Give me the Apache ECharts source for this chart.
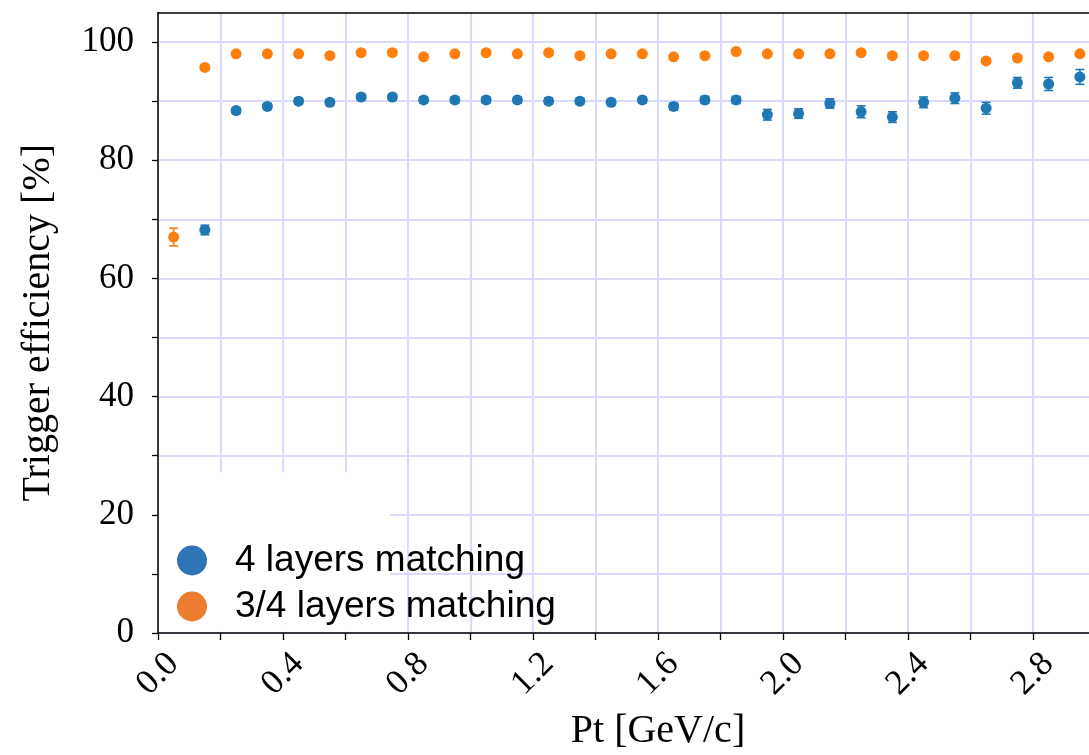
<!DOCTYPE html>
<html>
<head>
<meta charset="utf-8">
<script src="https://cdn.jsdelivr.net/npm/echarts@6/dist/echarts.min.js"></script>
<style>
  html, body { margin: 0; padding: 0; background: #fff; }
  #chart { width: 1089px; height: 755px; }
</style>
</head>
<body>
<div id="chart"></div>
<script>
// Pt bin centres [GeV/c]
const ptBins = [0.05, 0.15, 0.25, 0.35, 0.45, 0.55, 0.65, 0.75, 0.85, 0.95,
                1.05, 1.15, 1.25, 1.35, 1.45, 1.55, 1.65, 1.75, 1.85, 1.95,
                2.05, 2.15, 2.25, 2.35, 2.45, 2.55, 2.65, 2.75, 2.85, 2.95];

// Trigger efficiency [%] requiring all 4 layers to match
const eff4Layers = [null, 68.2, 88.4, 89.1, 90.0, 89.8, 90.7, 90.7, 90.2, 90.2,
                    90.2, 90.2, 90.0, 90.0, 89.8, 90.2, 89.1, 90.2, 90.2, 87.7,
                    87.9, 89.6, 88.2, 87.3, 89.8, 90.5, 88.8, 93.1, 92.9, 94.1];
const err4Layers = [null, 0.8, 0.5, 0.5, 0.5, 0.5, 0.5, 0.5, 0.5, 0.5,
                    0.5, 0.5, 0.5, 0.5, 0.5, 0.5, 0.6, 0.6, 0.6, 0.9,
                    0.8, 0.8, 1.0, 0.9, 0.9, 0.9, 1.0, 0.9, 1.1, 1.25];

// Trigger efficiency [%] requiring 3 of 4 layers to match
const eff34Layers = [67.0, 95.7, 98.0, 98.0, 98.0, 97.7, 98.2, 98.2, 97.5, 98.0,
                     98.2, 98.0, 98.2, 97.7, 98.0, 98.0, 97.5, 97.7, 98.4, 98.0,
                     98.0, 98.0, 98.2, 97.7, 97.7, 97.7, 96.8, 97.3, 97.5, 98.0];
const err34Layers = [1.5, 0.4, 0.3, 0.3, 0.3, 0.3, 0.3, 0.3, 0.3, 0.3,
                     0.3, 0.3, 0.3, 0.3, 0.3, 0.3, 0.3, 0.3, 0.3, 0.3,
                     0.3, 0.3, 0.3, 0.3, 0.3, 0.3, 0.4, 0.4, 0.4, 0.4];

const seriesNames = ['4 layers matching', '3/4 layers matching'];
const xTickLabels = ['0.0', '0.4', '0.8', '1.2', '1.6', '2.0', '2.4', '2.8'];
const yTickLabels = ['0', '20', '40', '60', '80', '100'];
const yTickValues = [0, 10, 20, 30, 40, 50, 60, 70, 80, 90, 100];

const BLUE = '#1f77b4', ORANGE = '#ff7f0e';
const LEGEND_BLUE = '#2e75b6', LEGEND_ORANGE = '#ed7d31';
const SERIF = '"Liberation Serif", "Times New Roman", serif';
const SANS = '"Liberation Sans", Arial, sans-serif';
const GRID_COLOR = '#dadafc';

function points(values) {
  const out = [];
  ptBins.forEach((x, i) => { if (values[i] != null) out.push([x, values[i]]); });
  return out;
}
function errorRanges(values, errors) {
  const out = [];
  ptBins.forEach((x, i) => {
    if (values[i] != null) out.push([x, values[i] - errors[i], values[i] + errors[i]]);
  });
  return out;
}
function errorBarRenderer(color) {
  return function (params, api) {
    const x = api.value(0);
    const hi = api.coord([x, api.value(2)]);
    const lo = api.coord([x, api.value(1)]);
    const hw = 4.5;
    const style = { stroke: color, lineWidth: 1.6 };
    return {
      type: 'group',
      children: [
        { type: 'line', shape: { x1: hi[0], y1: hi[1], x2: lo[0], y2: lo[1] }, style },
        { type: 'line', shape: { x1: hi[0] - hw, y1: hi[1], x2: hi[0] + hw, y2: hi[1] }, style },
        { type: 'line', shape: { x1: lo[0] - hw, y1: lo[1], x2: lo[0] + hw, y2: lo[1] }, style }
      ]
    };
  };
}

const chart = echarts.init(document.getElementById('chart'));

// The plotting frame runs past the right edge of the canvas (x up to 3.2 GeV/c)
const option = {
  animation: false,
  backgroundColor: '#fff',
  grid: {
    left: 158, top: 12.5, width: 1000, height: 620.5,
    containLabel: false, outerBoundsMode: 'none'
  },
  xAxis: [{
    type: 'value',
    min: 0, max: 3.2, interval: 0.2,
    name: 'Pt [GeV/c]',
    nameLocation: 'middle',
    nameGap: 78,
    nameTextStyle: { fontFamily: SERIF, fontSize: 40, color: '#000' },
    axisLine: { show: true, onZero: false, lineStyle: { color: '#000', width: 1.5 } },
    axisTick: { show: true, length: 7, lineStyle: { color: '#000', width: 1.3 } },
    axisLabel: {
      fontFamily: SERIF, fontSize: 35, color: '#000',
      rotate: 45, align: 'center', verticalAlign: 'middle', margin: 41,
      formatter: v => {
        const s = v.toFixed(1);
        return xTickLabels.indexOf(s) >= 0 ? s : '';
      }
    },
    splitLine: { show: true, lineStyle: { color: GRID_COLOR, width: 2 } }
  }, {
    type: 'value',
    position: 'top',
    min: 0, max: 3.2,
    axisLine: { show: true, onZero: false, lineStyle: { color: '#000', width: 1.5 } },
    axisTick: { show: false },
    axisLabel: { show: false },
    splitLine: { show: false }
  }],
  yAxis: {
    type: 'value',
    min: 0, max: 105, interval: 10,
    name: 'Trigger efficiency [%]',
    nameLocation: 'middle',
    nameGap: 100,
    nameTextStyle: { fontFamily: SERIF, fontSize: 40, color: '#000' },
    axisLine: { show: true, onZero: false, lineStyle: { color: '#000', width: 1.5 } },
    axisTick: { show: true, length: 6, customValues: yTickValues, lineStyle: { color: '#000', width: 1.3 } },
    axisLabel: {
      fontFamily: SERIF, fontSize: 35, color: '#000', margin: 24,
      formatter: v => {
        const s = String(v);
        return yTickLabels.indexOf(s) >= 0 ? s : '';
      }
    },
    splitLine: { show: true, lineStyle: { color: GRID_COLOR, width: 2 } }
  },
  legend: {
    orient: 'vertical',
    left: 177, top: 542,
    padding: 0,
    itemGap: 9,
    itemWidth: 30, itemHeight: 30,
    icon: 'circle',
    z: 10,
    textStyle: { fontFamily: SANS, fontSize: 37, color: '#000', lineHeight: 36, padding: [0, 0, 0, 23] },
    data: [
      { name: seriesNames[0], itemStyle: { color: LEGEND_BLUE } },
      { name: seriesNames[1], itemStyle: { color: LEGEND_ORANGE } }
    ]
  },
  series: [
    {
      name: seriesNames[0] + ' errors',
      type: 'custom',
      renderItem: errorBarRenderer(BLUE),
      data: errorRanges(eff4Layers, err4Layers),
      encode: { x: 0, y: [1, 2] },
      z: 3, silent: true
    },
    {
      name: seriesNames[1] + ' errors',
      type: 'custom',
      renderItem: errorBarRenderer(ORANGE),
      data: errorRanges(eff34Layers, err34Layers),
      encode: { x: 0, y: [1, 2] },
      z: 3, silent: true
    },
    {
      name: seriesNames[0],
      type: 'scatter',
      symbol: 'circle',
      symbolSize: 11,
      itemStyle: { color: BLUE, opacity: 1 },
      data: points(eff4Layers),
      z: 4
    },
    {
      name: seriesNames[1],
      type: 'scatter',
      symbol: 'circle',
      symbolSize: 11,
      itemStyle: { color: ORANGE, opacity: 1 },
      data: points(eff34Layers),
      z: 4
    }
  ]
};

chart.setOption(option);

// White patch behind the legend, covering the grid in the lower-left corner
const patchTopLeft = chart.convertToPixel({ xAxisIndex: 0, yAxisIndex: 0 }, [0, 27.2]);
const patchBottomRight = chart.convertToPixel({ xAxisIndex: 0, yAxisIndex: 0 }, [0.742, 0]);
chart.setOption({
  graphic: [{
    type: 'rect',
    z: 2,
    silent: true,
    shape: {
      x: patchTopLeft[0] + 1.5,
      y: patchTopLeft[1],
      width: patchBottomRight[0] - patchTopLeft[0] - 1.5,
      height: patchBottomRight[1] - patchTopLeft[1] - 1.5
    },
    style: { fill: '#fff' }
  }]
});
</script>
</body>
</html>
